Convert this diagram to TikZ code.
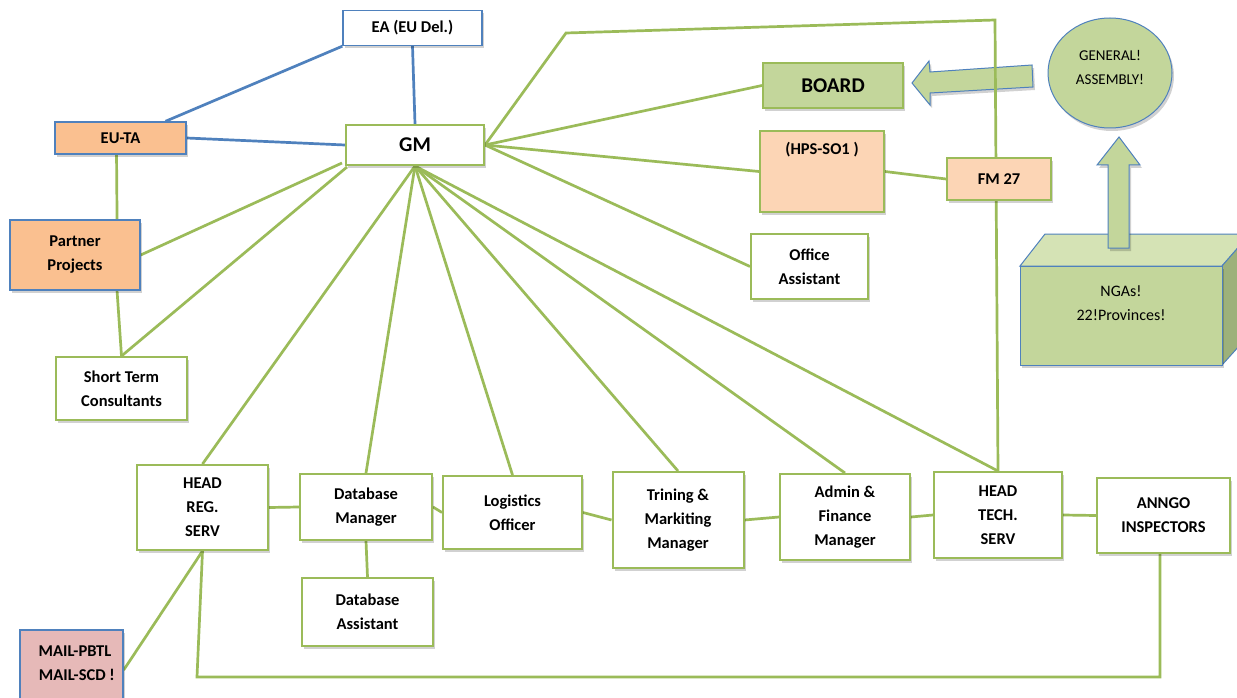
\documentclass[tikz,border=0pt]{standalone}
\usepackage{fontspec}
\setmainfont{Carlito}
\usetikzlibrary{shapes.geometric,calc,shadows}
\pgfdeclarelayer{bottom}
\pgfdeclarelayer{background}
\pgfsetlayers{bottom,background,main}
\definecolor{lgreen}{HTML}{9BBB59}
\definecolor{lblue}{HTML}{4F81BD}
\definecolor{orangef}{HTML}{FAC090}
\definecolor{peachf}{HTML}{FCD5B5}
\definecolor{greenf}{HTML}{C3D69B}
\definecolor{greentop}{HTML}{D5E3B5}
\definecolor{greenside}{HTML}{9DB17A}
\definecolor{pinkf}{HTML}{E6B9B8}
\tikzset{
  every node/.style={font=\bfseries\fontsize{16.5}{24}\selectfont},
  sh/.style={drop shadow={shadow xshift=2pt,shadow yshift=-3pt,opacity=0.18,fill=black}},
  gbox/.style={draw=lgreen,line width=2pt,fill=white,inner sep=0pt,align=center,sh},
  bbox/.style={draw=lblue,line width=1.4pt,inner sep=0pt,align=center,sh},
  gline/.style={draw=lgreen,line width=2.7pt},
  bline/.style={draw=lblue,line width=2.7pt},
  big/.style={font=\bfseries\fontsize{21}{25}\selectfont},
  plain/.style={font=\fontsize{16}{24}\selectfont},
  blockarrow/.style={draw=lblue,line width=1pt,fill=greenf,sh},
}
\begin{document}
\begin{tikzpicture}[x=1pt,y=-1pt]
\begin{pgfonlayer}{bottom}
\path[fill=white] (0,0) rectangle (1237,698);
\end{pgfonlayer}
\useasboundingbox (0,0) rectangle (1237,698);
% named bend coordinates
\coordinate (topA) at (566,33);
\coordinate (topB) at (995,20);
\coordinate (loopA) at (197,677);
\coordinate (loopB) at (1160,677);
% ---------- nodes ----------
\node[bbox,fill=white,minimum width=139pt,minimum height=35pt] (ea) at (412.5,28) {EA (EU Del.)};
\node[bbox,fill=orangef,minimum width=131pt,minimum height=32pt] (euta) at (120.5,138) {EU-TA};
\node[gbox,big,minimum width=138pt,minimum height=40pt] (gm) at (415,145) {GM};
\node[bbox,fill=orangef,minimum width=130pt,minimum height=70pt] (pp) at (75,255) {Partner\\Projects};
\node[gbox,minimum width=131pt,minimum height=63pt] (stc) at (121.5,388.5) {Short Term\\Consultants};
\node[gbox,fill=greenf,big,minimum width=140pt,minimum height=45pt] (board) at (833,85.5) {BOARD};
\node[gbox,fill=peachf,minimum width=124pt,minimum height=81pt] (hps) at (822,171.5) {(HPS-SO1 )\\[22pt]\mbox{}};
\node[gbox,fill=peachf,minimum width=104pt,minimum height=42pt] (fm) at (999,179) {FM 27};
\node[gbox,minimum width=117pt,minimum height=65pt] (oa) at (809.5,266.5) {Office\\Assistant};
\node[gbox,minimum width=131pt,minimum height=85pt] (hrs) at (202.5,507.5) {HEAD\\REG.\\SERV};
\node[gbox,minimum width=132pt,minimum height=66pt] (dm) at (366,507) {Database\\Manager};
\node[gbox,minimum width=131pt,minimum height=68pt] (dba) at (367.5,612) {Database\\Assistant};
\node[gbox,minimum width=139pt,minimum height=73pt] (lo) at (512.5,512.5) {Logistics\\Officer};
\node[gbox,minimum width=131pt,minimum height=96pt] (tm) at (678,520) {Trining \&\\Markiting\\Manager};
\node[gbox,minimum width=130pt,minimum height=86pt] (af) at (845,517) {Admin \&\\Finance\\Manager};
\node[gbox,minimum width=128pt,minimum height=86pt] (hts) at (998,515) {HEAD\\TECH.\\SERV};
\node[gbox,minimum width=133pt,minimum height=75pt] (anngo) at (1163.5,515.5) {ANNGO\\INSPECTORS};
\node[bbox,fill=pinkf,minimum width=103pt,minimum height=80pt] (mail) at (71.5,670) {};
\node[align=center] (mailtext) at (75,663) {MAIL-PBTL\\\ MAIL-SCD !};
% ---------- NGAs cuboid ----------
\path[draw=lblue,line width=1pt,fill=greentop] (1020,266) -- (1045,234) -- (1250,234) -- (1222,266) -- cycle;
\path[draw=lblue,line width=1pt,fill=greenside] (1222,266) -- (1250,234) -- (1250,334) -- (1222,365) -- cycle;
\path[draw=lblue,line width=1pt,fill=greenf,sh] (1020,266) rectangle (1222,365);
\node[plain,align=center] (ngas) at (1121,303) {NGAs!\\22!Provinces!};
% ---------- General assembly ----------
\node[ellipse,draw=lblue,line width=1pt,fill=greenf,minimum width=124pt,minimum height=110pt,inner sep=0pt,sh] (ga) at (1110,73) {};
\node[font=\fontsize{15}{24}\selectfont,align=center] (gatext) at (1110,67) {GENERAL!\\ASSEMBLY!};
% up block arrow
\path[blockarrow] (1119,137) -- (1140,165) -- (1129,165) -- (1129,248) -- (1108,248) -- (1108,165) -- (1097,165) -- cycle;
% ---------- connectors (behind nodes) ----------
\begin{pgfonlayer}{background}
% left block arrow (the line crosses over it)
\path[blockarrow] (912,83) -- (929,61) -- (930,72) -- (1032,65) -- (1033,87) -- (930,93) -- (930,105) -- cycle;
\path[bline] (ea.south) -- (gm.north);
\path[bline] (ea.south west) -- ($(euta.north west)!0.84!(euta.north east)$);
\path[bline] (euta.east) -- (gm.west);
\path[gline] ($(euta.south west)!0.47!(euta.south east)$) -- ($(pp.north west)!0.82!(pp.north east)$);
\path[gline] ($(pp.south west)!0.82!(pp.south east)$) -- (stc.north);
\path[gline] ($(gm.south west)+(-3,-3)$) -- (pp.east);
\path[gline] ($(gm.south west)+(2,1)$) -- (stc.north);
\foreach \t in {hrs,dm,lo,tm,af,hts} {\path[gline] (gm.south) -- (\t.north);}
\path[gline] (gm.east) -- (board.west);
\path[gline] (gm.east) -- (hps.west);
\path[gline] (gm.east) -- (oa.west);
\path[gline] (gm.east) -- (topA) -- (topB) -- (hts.north);
\path[gline] (hps.east) -- (fm.west);
\path[gline] (hrs.east) -- (dm.west);
\path[gline] (dm.east) -- (lo.west);
\path[gline] (lo.east) -- (tm.west);
\path[gline] (tm.east) -- (af.west);
\path[gline] (af.east) -- (hts.west);
\path[gline] (hts.east) -- (anngo.west);
\path[gline] (dm.south) -- (dba.north);
\path[gline] (hrs.south) -- (loopA) -- (loopB) -- (loopB |- anngo.south);
\path[gline] (mail.east) -- (hrs.south);
\end{pgfonlayer}
\end{tikzpicture}
\end{document}
